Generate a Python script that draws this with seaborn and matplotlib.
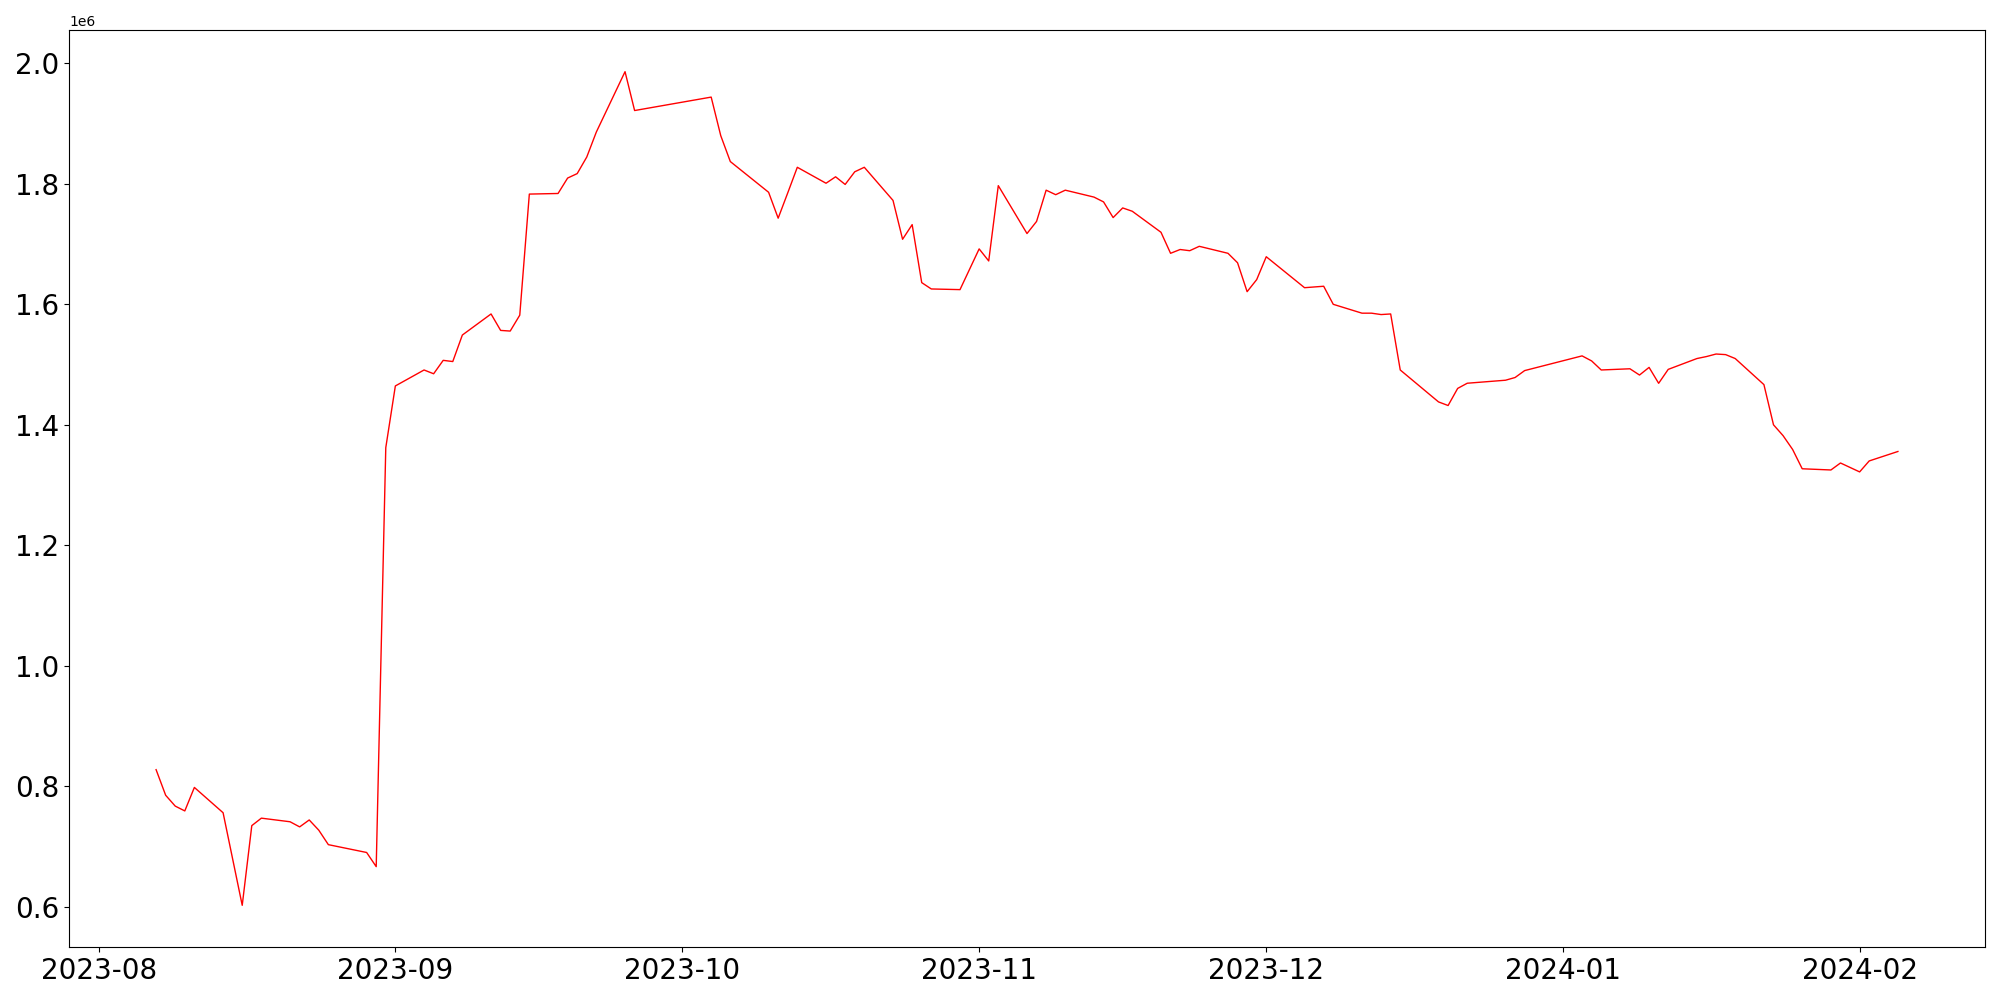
import pandas as pd
import seaborn as sns
import matplotlib
matplotlib.use("Agg")
import matplotlib.pyplot as plt

# trading dates and closing values
dates = [
    "2023-08-07", "2023-08-08", "2023-08-09", "2023-08-10", "2023-08-11",
    "2023-08-14", "2023-08-16", "2023-08-17", "2023-08-18", "2023-08-21",
    "2023-08-22", "2023-08-23", "2023-08-24", "2023-08-25", "2023-08-29",
    "2023-08-30", "2023-08-31", "2023-09-01", "2023-09-04", "2023-09-05",
    "2023-09-06", "2023-09-07", "2023-09-08", "2023-09-11", "2023-09-12",
    "2023-09-13", "2023-09-14", "2023-09-15", "2023-09-18", "2023-09-19",
    "2023-09-20", "2023-09-21", "2023-09-22", "2023-09-25", "2023-09-26",
    "2023-10-04", "2023-10-05", "2023-10-06", "2023-10-10", "2023-10-11",
    "2023-10-12", "2023-10-13", "2023-10-16", "2023-10-17", "2023-10-18",
    "2023-10-19", "2023-10-20", "2023-10-23", "2023-10-24", "2023-10-25",
    "2023-10-26", "2023-10-27", "2023-10-30", "2023-11-01", "2023-11-02",
    "2023-11-03", "2023-11-06", "2023-11-07", "2023-11-08", "2023-11-09",
    "2023-11-10", "2023-11-13", "2023-11-14", "2023-11-15", "2023-11-16",
    "2023-11-17", "2023-11-20", "2023-11-21", "2023-11-22", "2023-11-23",
    "2023-11-24", "2023-11-27", "2023-11-28", "2023-11-29", "2023-11-30",
    "2023-12-01", "2023-12-05", "2023-12-07", "2023-12-08", "2023-12-11",
    "2023-12-12", "2023-12-13", "2023-12-14", "2023-12-15", "2023-12-19",
    "2023-12-20", "2023-12-21", "2023-12-22", "2023-12-26", "2023-12-27",
    "2023-12-28", "2024-01-03", "2024-01-04", "2024-01-05", "2024-01-08",
    "2024-01-09", "2024-01-10", "2024-01-11", "2024-01-12", "2024-01-15",
    "2024-01-16", "2024-01-17", "2024-01-18", "2024-01-19", "2024-01-22",
    "2024-01-23", "2024-01-24", "2024-01-25", "2024-01-26", "2024-01-29",
    "2024-01-30", "2024-02-01", "2024-02-02", "2024-02-05",
]
values = [
    827500, 785000, 767000, 759000, 798000,
    756000, 602300, 734600, 747000, 741000,
    732500, 744000, 727000, 703000, 690000,
    666500, 1362000, 1464500, 1491000, 1484700,
    1507000, 1505000, 1549000, 1584000, 1556700,
    1555600, 1582000, 1783000, 1784000, 1809600,
    1817000, 1844500, 1886000, 1986200, 1921700,
    1944000, 1880000, 1837000, 1786000, 1743000,
    1785000, 1827500, 1801000, 1811700, 1799000,
    1820000, 1827500, 1772500, 1708000, 1732300,
    1636000, 1625500, 1624400, 1692000, 1672000,
    1797000, 1717500, 1737600, 1789500, 1782000,
    1789500, 1778000, 1770000, 1744000, 1760000,
    1754500, 1719600, 1684700, 1691000, 1689000,
    1696300, 1684700, 1669000, 1621000, 1641000,
    1679000, 1627600, 1630000, 1600000, 1585300,
    1585300, 1583000, 1584000, 1491000, 1438000,
    1432000, 1460400, 1469000, 1474000, 1478500,
    1490000, 1514400, 1506000, 1491000, 1493000,
    1482600, 1495300, 1468900, 1492000, 1510000,
    1513300, 1517500, 1516500, 1510000, 1466700,
    1400000, 1382000, 1359000, 1327000, 1325000,
    1336600, 1321800, 1340000, 1355700,
]

df = pd.DataFrame({"date": pd.to_datetime(dates), "value": values})

fig, ax = plt.subplots(figsize=(20, 10), dpi=100)
sns.lineplot(x="date", y="value", data=df, ax=ax, color="red", linewidth=1)
ax.set_xlabel(None)
ax.set_ylabel(None)
ax.tick_params(labelsize=20)
fig.subplots_adjust(left=0.0345, right=0.9925, bottom=0.053, top=0.97)
plt.savefig("out.png")
